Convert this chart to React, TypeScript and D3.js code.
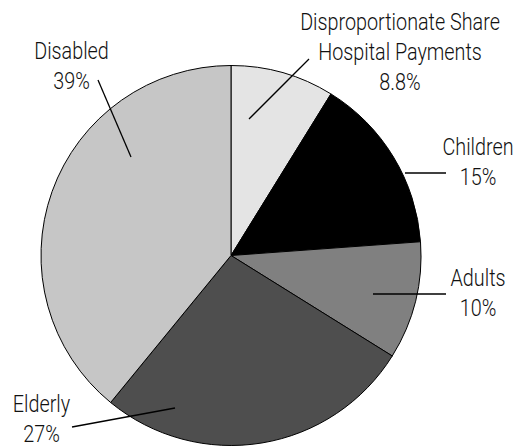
import React from "react";
import * as d3 from "d3";

const categories = ["Disproportionate Share Hospital Payments", "Children", "Adults", "Elderly", "Disabled"];
const values = [8.8, 15, 10, 27, 39];
const valueLabels = ["8.8%", "15%", "10%", "27%", "39%"];
const colors = ["#e4e4e4", "#000000", "#808080", "#4e4e4e", "#c6c6c6"];
const labelLines = [
  ["Disproportionate Share", "Hospital Payments"],
  ["Children"],
  ["Adults"],
  ["Elderly"],
  ["Disabled"],
];

// annotation layout (label anchor x, first baseline y, leader line endpoints)
const annotations = [
  { x: 400, y: 30.5, leader: [[249, 119], [309, 59]] },
  { x: 478, y: 155, leader: [[405, 173], [446, 173]] },
  { x: 478, y: 286.5, leader: [[373, 294], [446, 294]] },
  { x: 41.5, y: 412.5, leader: [[175, 408], [72, 427]] },
  { x: 71.5, y: 59, leader: [[131, 157], [98, 80]] },
];

const W = 518;
const H = 446;
const cx = 231;
const cy = 255.5;
const R = 190;
const LINE_H = 30;
const FONT = "Roboto, 'Liberation Sans', sans-serif";
const SX = 0.86;

export default function App() {
  const pie = d3.pie<number>().sort(null).value((d) => d);
  const arcs = pie(values);
  const arc = d3.arc<d3.PieArcDatum<number>>().innerRadius(0).outerRadius(R);

  return (
    <svg
      width={W}
      height={H}
      style={{ position: "absolute", left: 0, top: 0, background: "#fff" }}
    >
      <g transform={`translate(${cx},${cy})`}>
        {arcs.map((a, i) => (
          <path
            key={categories[i]}
            d={arc(a) || ""}
            fill={colors[i]}
            stroke="#000"
            strokeWidth={1}
          />
        ))}
      </g>
      {annotations.map((an, i) => {
        const lines = [...labelLines[i], valueLabels[i]];
        return (
          <g key={categories[i]}>
            <line
              x1={an.leader[0][0]}
              y1={an.leader[0][1]}
              x2={an.leader[1][0]}
              y2={an.leader[1][1]}
              stroke="#000"
              strokeWidth={1.3}
            />
            <g transform={`translate(${an.x},0) scale(${SX},1)`}>
              <text
                textAnchor="middle"
                fontFamily={FONT}
                fontSize={23}
                fontWeight={300}
                fill="#111"
              >
                {lines.map((t, j) => (
                  <tspan key={j} x={0} y={an.y + j * LINE_H}>
                    {t}
                  </tspan>
                ))}
              </text>
            </g>
          </g>
        );
      })}
    </svg>
  );
}
